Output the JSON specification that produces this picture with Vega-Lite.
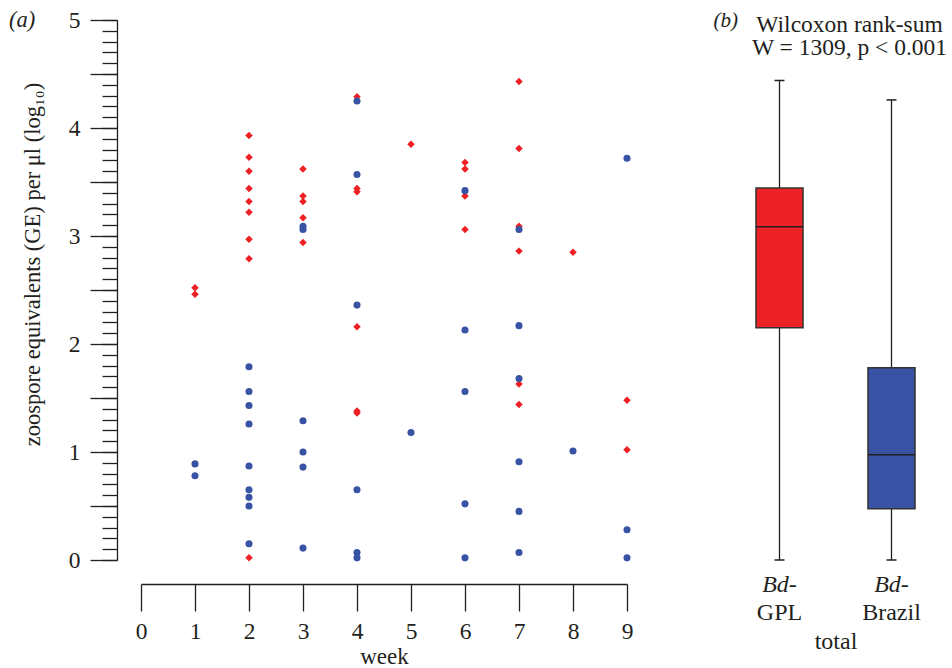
{
  "$schema": "https://vega.github.io/schema/vega-lite/v6.json",
  "padding": {"left": 9, "top": 8, "right": 0, "bottom": 0},
  "background": "white",
  "bounds": "flush",
  "spacing": 96.5,
  "config": {
    "view": {"stroke": null},
    "font": "Liberation Serif",
    "axis": {
      "labelFont": "Liberation Serif", "titleFont": "Liberation Serif",
      "labelFontSize": 23.5, "titleFontSize": 23.5, "titleFontWeight": "normal",
      "labelColor": "#231f20", "titleColor": "#231f20",
      "domainColor": "#231f20", "tickColor": "#231f20",
      "domainWidth": 1.3, "tickWidth": 1.3, "grid": false,
      "labelOverlap": false, "labelFlush": false
    },
    "title": {"font": "Liberation Serif", "fontWeight": "normal", "color": "#231f20"}
  },
  "datasets": {
    "points": [
      {"week": 1, "ge": 2.52, "strain": "GPL"},
      {"week": 1, "ge": 2.46, "strain": "GPL"},
      {"week": 2, "ge": 3.93, "strain": "GPL"},
      {"week": 2, "ge": 3.73, "strain": "GPL"},
      {"week": 2, "ge": 3.60, "strain": "GPL"},
      {"week": 2, "ge": 3.44, "strain": "GPL"},
      {"week": 2, "ge": 3.32, "strain": "GPL"},
      {"week": 2, "ge": 3.22, "strain": "GPL"},
      {"week": 2, "ge": 2.97, "strain": "GPL"},
      {"week": 2, "ge": 2.79, "strain": "GPL"},
      {"week": 2, "ge": 0.02, "strain": "GPL"},
      {"week": 3, "ge": 3.62, "strain": "GPL"},
      {"week": 3, "ge": 3.37, "strain": "GPL"},
      {"week": 3, "ge": 3.32, "strain": "GPL"},
      {"week": 3, "ge": 3.17, "strain": "GPL"},
      {"week": 3, "ge": 2.94, "strain": "GPL"},
      {"week": 4, "ge": 4.29, "strain": "GPL"},
      {"week": 4, "ge": 3.44, "strain": "GPL"},
      {"week": 4, "ge": 3.41, "strain": "GPL"},
      {"week": 4, "ge": 2.16, "strain": "GPL"},
      {"week": 4, "ge": 1.38, "strain": "GPL"},
      {"week": 4, "ge": 1.36, "strain": "GPL"},
      {"week": 5, "ge": 3.85, "strain": "GPL"},
      {"week": 6, "ge": 3.68, "strain": "GPL"},
      {"week": 6, "ge": 3.62, "strain": "GPL"},
      {"week": 6, "ge": 3.37, "strain": "GPL"},
      {"week": 6, "ge": 3.06, "strain": "GPL"},
      {"week": 7, "ge": 4.43, "strain": "GPL"},
      {"week": 7, "ge": 3.81, "strain": "GPL"},
      {"week": 7, "ge": 3.09, "strain": "GPL"},
      {"week": 7, "ge": 2.86, "strain": "GPL"},
      {"week": 7, "ge": 1.63, "strain": "GPL"},
      {"week": 7, "ge": 1.44, "strain": "GPL"},
      {"week": 8, "ge": 2.85, "strain": "GPL"},
      {"week": 9, "ge": 1.48, "strain": "GPL"},
      {"week": 9, "ge": 1.02, "strain": "GPL"},
      {"week": 1, "ge": 0.89, "strain": "Brazil"},
      {"week": 1, "ge": 0.78, "strain": "Brazil"},
      {"week": 2, "ge": 1.79, "strain": "Brazil"},
      {"week": 2, "ge": 1.56, "strain": "Brazil"},
      {"week": 2, "ge": 1.43, "strain": "Brazil"},
      {"week": 2, "ge": 1.26, "strain": "Brazil"},
      {"week": 2, "ge": 0.87, "strain": "Brazil"},
      {"week": 2, "ge": 0.65, "strain": "Brazil"},
      {"week": 2, "ge": 0.58, "strain": "Brazil"},
      {"week": 2, "ge": 0.50, "strain": "Brazil"},
      {"week": 2, "ge": 0.15, "strain": "Brazil"},
      {"week": 3, "ge": 3.09, "strain": "Brazil"},
      {"week": 3, "ge": 3.06, "strain": "Brazil"},
      {"week": 3, "ge": 1.29, "strain": "Brazil"},
      {"week": 3, "ge": 1.00, "strain": "Brazil"},
      {"week": 3, "ge": 0.86, "strain": "Brazil"},
      {"week": 3, "ge": 0.11, "strain": "Brazil"},
      {"week": 4, "ge": 4.25, "strain": "Brazil"},
      {"week": 4, "ge": 3.57, "strain": "Brazil"},
      {"week": 4, "ge": 2.36, "strain": "Brazil"},
      {"week": 4, "ge": 0.65, "strain": "Brazil"},
      {"week": 4, "ge": 0.07, "strain": "Brazil"},
      {"week": 4, "ge": 0.02, "strain": "Brazil"},
      {"week": 5, "ge": 1.18, "strain": "Brazil"},
      {"week": 6, "ge": 3.42, "strain": "Brazil"},
      {"week": 6, "ge": 2.13, "strain": "Brazil"},
      {"week": 6, "ge": 1.56, "strain": "Brazil"},
      {"week": 6, "ge": 0.52, "strain": "Brazil"},
      {"week": 6, "ge": 0.02, "strain": "Brazil"},
      {"week": 7, "ge": 3.06, "strain": "Brazil"},
      {"week": 7, "ge": 2.17, "strain": "Brazil"},
      {"week": 7, "ge": 1.68, "strain": "Brazil"},
      {"week": 7, "ge": 0.91, "strain": "Brazil"},
      {"week": 7, "ge": 0.45, "strain": "Brazil"},
      {"week": 7, "ge": 0.07, "strain": "Brazil"},
      {"week": 8, "ge": 1.01, "strain": "Brazil"},
      {"week": 9, "ge": 3.72, "strain": "Brazil"},
      {"week": 9, "ge": 0.28, "strain": "Brazil"},
      {"week": 9, "ge": 0.02, "strain": "Brazil"}
    ],
    "boxes": [
      {"strain": "GPL", "min": 0, "q1": 2.15, "median": 3.085, "q3": 3.445, "max": 4.44},
      {"strain": "Brazil", "min": 0, "q1": 0.475, "median": 0.975, "q3": 1.78, "max": 4.26}
    ]
  },
  "hconcat": [
    {
      "width": 486,
      "height": 540,
      "title": {"text": "(a)", "anchor": "start", "frame": "group", "dx": -132, "fontStyle": "italic", "fontSize": 22.5, "baseline": "alphabetic", "offset": -41},
      "data": {"name": "points"},
      "resolve": {"axis": {"x": "independent", "y": "independent"}},
      "layer": [
        {
          "transform": [{"filter": "datum.strain === 'GPL'"}],
          "mark": {"type": "point", "shape": "diamond", "filled": true, "size": 56, "color": "#ED2024", "opacity": 1},
          "encoding": {
            "x": {
              "field": "week", "type": "quantitative",
              "scale": {"domain": [0, 9], "nice": false, "zero": false},
              "axis": {"values": [0, 1, 2, 3, 4, 5, 6, 7, 8, 9], "offset": 24, "tickSize": 27, "labelPadding": 27, "labelBaseline": "alphabetic", "title": "week", "titleFontSize": 23, "titleY": 79, "titleBaseline": "alphabetic"}
            },
            "y": {
              "field": "ge", "type": "quantitative",
              "scale": {"domain": [0, 5], "nice": false, "zero": false},
              "axis": {"values": [0, 0.5, 1, 1.5, 2, 2.5, 3, 3.5, 4, 4.5, 5], "offset": 24, "tickSize": 27, "labelPadding": 10, "labelExpr": "datum.value % 1 === 0 ? format(datum.value, 'd') : ''", "title": "zoospore equivalents (GE) per μl (log₁₀)", "titleFontSize": 22.5, "titleX": -85, "titleY": 244, "titleBaseline": "middle"}
            }
          }
        },
        {
          "transform": [{"filter": "datum.strain === 'Brazil'"}],
          "mark": {"type": "circle", "size": 50, "color": "#3853A4", "opacity": 1},
          "encoding": {
            "x": {"field": "week", "type": "quantitative", "axis": null},
            "y": {
              "field": "ge", "type": "quantitative",
              "axis": {"orient": "left", "values": [0, 0.1, 0.2, 0.3, 0.4, 0.5, 0.6, 0.7, 0.8, 0.9, 1, 1.1, 1.2, 1.3, 1.4, 1.5, 1.6, 1.7, 1.8, 1.9, 2, 2.1, 2.2, 2.3, 2.4, 2.5, 2.6, 2.7, 2.8, 2.9, 3, 3.1, 3.2, 3.3, 3.4, 3.5, 3.6, 3.7, 3.8, 3.9, 4, 4.1, 4.2, 4.3, 4.4, 4.5, 4.6, 4.7, 4.8, 4.9, 5], "offset": 24, "tickSize": 15, "labels": false, "domain": false, "title": null}
            }
          }
        }
      ]
    },
    {
      "width": 224,
      "height": 540,
      "title": {"text": ["Wilcoxon rank-sum", "W = 1309, p < 0.001"], "anchor": "middle", "frame": "group", "dx": 14, "fontSize": 23.5, "lineHeight": 23, "baseline": "alphabetic", "offset": -69},
      "data": {"name": "boxes"},
      "resolve": {"axis": {"x": "independent", "y": "independent"}},
      "layer": [
        {
          "mark": {"type": "rule", "color": "#231f20", "strokeWidth": 1.3},
          "encoding": {
            "x": {
              "field": "strain", "type": "nominal", "sort": ["GPL", "Brazil"],
              "scale": {"type": "band", "paddingInner": 0.58, "paddingOuter": 0.29},
              "axis": {"orient": "bottom", "domain": false, "ticks": false, "tickSize": 0, "labelExpr": "'Bd-'", "labelFontStyle": "italic", "labelFontSize": 24, "labelPadding": 31, "labelBaseline": "alphabetic", "labelAngle": 0, "title": null}
            },
            "y": {
              "field": "min", "type": "quantitative",
              "scale": {"domain": [0, 5], "nice": false, "zero": false},
              "axis": {"domain": false, "ticks": false, "labels": false, "title": "(b)", "titleAngle": 0, "titleX": -10.5, "titleY": 6, "titleAlign": "left", "titleBaseline": "alphabetic", "titleFontStyle": "italic", "titleFontSize": 21}
            },
            "y2": {"field": "max"}
          }
        },
        {
          "mark": {"type": "bar", "stroke": "#333333", "strokeWidth": 1.5},
          "encoding": {
            "x": {
              "field": "strain", "type": "nominal", "sort": ["GPL", "Brazil"],
              "axis": {"orient": "bottom", "domain": false, "ticks": false, "tickSize": 0, "labelFontSize": 24, "labelPadding": 59, "labelBaseline": "alphabetic", "labelAngle": 0, "title": "total", "titleFontSize": 24, "titleY": 88, "titleBaseline": "alphabetic"}
            },
            "y": {"field": "q1", "type": "quantitative", "axis": null},
            "y2": {"field": "q3"},
            "color": {"field": "strain", "type": "nominal", "scale": {"domain": ["GPL", "Brazil"], "range": ["#EC2227", "#3953A4"]}, "legend": null}
          }
        },
        {
          "mark": {"type": "tick", "color": "#231f20", "thickness": 1.5, "size": 47, "opacity": 1},
          "encoding": {
            "x": {"field": "strain", "type": "nominal", "sort": ["GPL", "Brazil"], "axis": null},
            "y": {"field": "median", "type": "quantitative", "axis": null}
          }
        },
        {
          "mark": {"type": "tick", "color": "#231f20", "thickness": 1.5, "size": 10, "opacity": 1},
          "encoding": {
            "x": {"field": "strain", "type": "nominal", "sort": ["GPL", "Brazil"], "axis": null},
            "y": {"field": "min", "type": "quantitative", "axis": null}
          }
        },
        {
          "mark": {"type": "tick", "color": "#231f20", "thickness": 1.5, "size": 10, "opacity": 1},
          "encoding": {
            "x": {"field": "strain", "type": "nominal", "sort": ["GPL", "Brazil"], "axis": null},
            "y": {"field": "max", "type": "quantitative", "axis": null}
          }
        }
      ]
    }
  ]
}
